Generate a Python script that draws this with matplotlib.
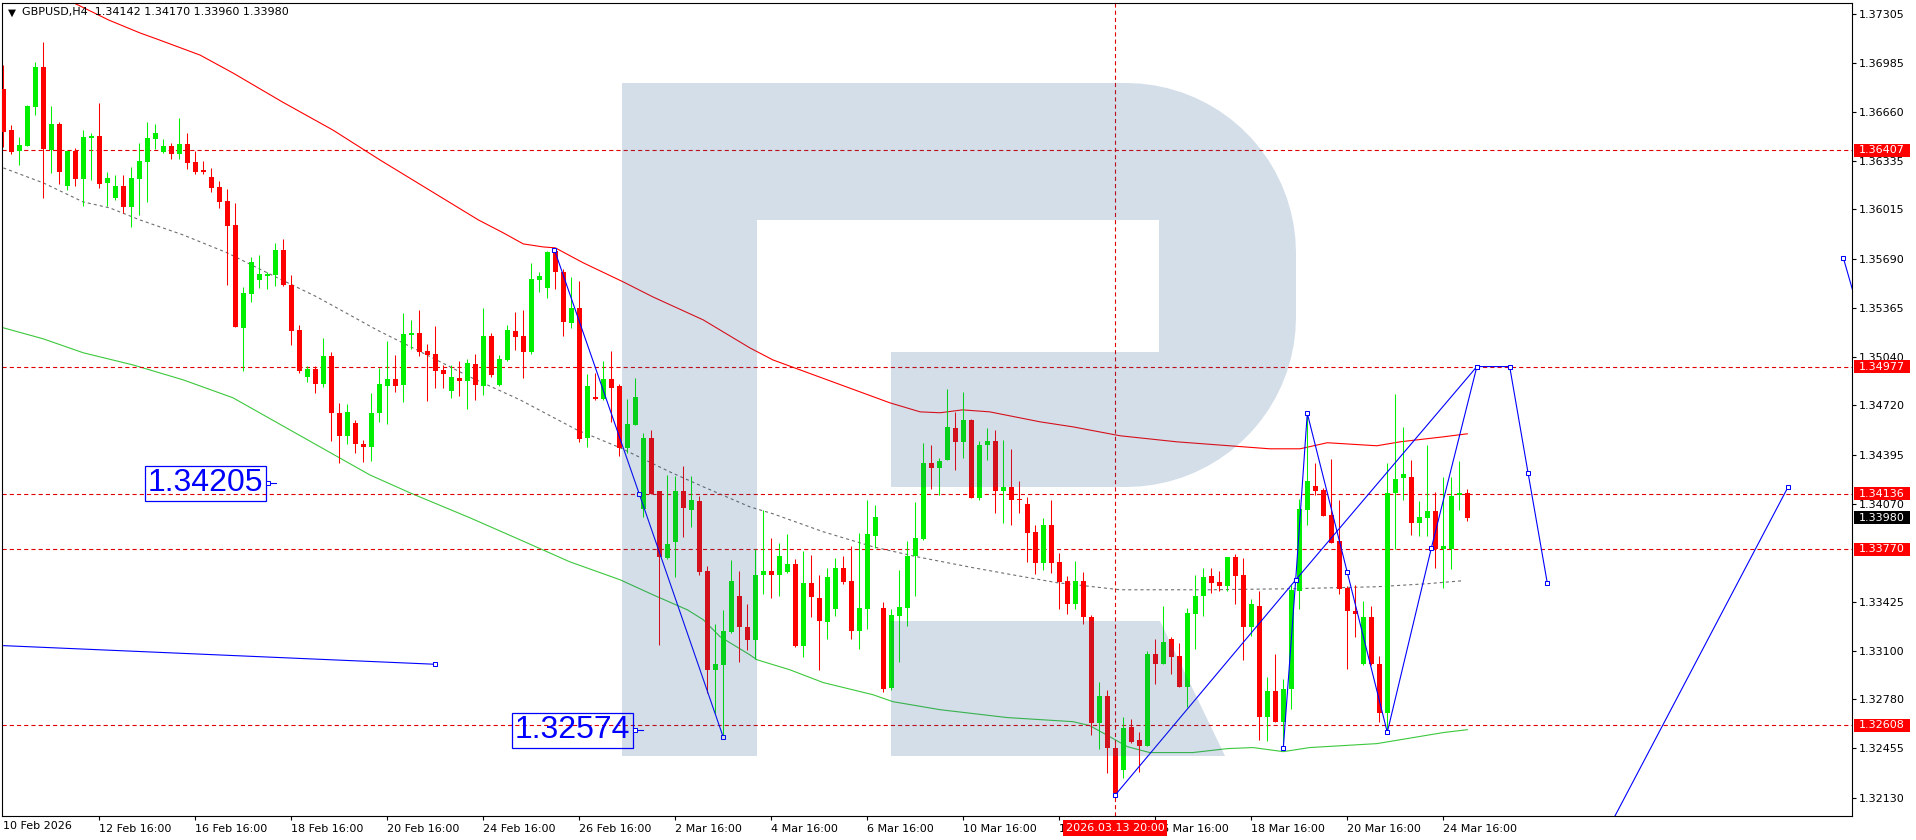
import numpy as np
import matplotlib
matplotlib.use("Agg")
import matplotlib.pyplot as plt
import matplotlib.transforms as mtransforms
from matplotlib.patches import Polygon, Rectangle

plt.rcParams['font.family'] = ['DejaVu Sans']
plt.rcParams['lines.scale_dashes'] = False

# GBPUSD H4 candles, bar 0 = 10 Feb 16:00
opens = [1.36810, 1.36539, 1.36403, 1.36436, 1.36693, 1.36955, 1.36409, 1.36579, 1.36172, 1.36400,
         1.36216, 1.36488, 1.36499, 1.36189, 1.36092, 1.36169, 1.36033, 1.36216, 1.36330, 1.36480,
         1.36396, 1.36434, 1.36383, 1.36447, 1.36328, 1.36275, 1.36229, 1.36162, 1.36070, 1.35912,
         1.35234, 1.35459, 1.35551, 1.35577, 1.35581, 1.35747, 1.35516, 1.35218, 1.34910, 1.34961,
         1.34864, 1.35047, 1.34673, 1.34521, 1.34606, 1.34468, 1.34448, 1.34669, 1.34851, 1.34896,
         1.34858, 1.35188, 1.35199, 1.35080, 1.35061, 1.34955, 1.34818, 1.34902, 1.34882, 1.34995,
         1.34851, 1.35180, 1.34856, 1.35021, 1.35213, 1.35180, 1.35076, 1.35549, 1.35496, 1.35741,
         1.35602, 1.35268, 1.35364, 1.34502, 1.34774, 1.34764, 1.34896, 1.34849, 1.34442, 1.34594,
         1.34039, 1.34506, 1.34152, 1.33716, 1.33821, 1.34156, 1.34033, 1.34090, 1.33628, 1.32970,
         1.33009, 1.33225, 1.33463, 1.33254, 1.33173, 1.33602, 1.33628, 1.33602, 1.33622, 1.33674,
         1.33133, 1.33549, 1.33450, 1.33287, 1.33379, 1.33648, 1.33562, 1.33234, 1.33379, 1.33861,
         1.33384, 1.32853, 1.33331, 1.33384, 1.33723, 1.33839, 1.34341, 1.34304, 1.34357, 1.34572,
         1.34476, 1.34625, 1.34112, 1.34456, 1.34486, 1.34152, 1.34183, 1.34097, 1.34071, 1.33886,
         1.33677, 1.33932, 1.33688, 1.33562, 1.33412, 1.33562, 1.33324, 1.32620, 1.32803, 1.32459,
         1.32316, 1.32598, 1.32508, 1.32468, 1.33080, 1.33014, 1.33179, 1.33067, 1.32864, 1.33346,
         1.33459, 1.33595, 1.33556, 1.33531, 1.33721, 1.33602, 1.33254, 1.33397, 1.32666, 1.32836,
         1.32633, 1.32845, 1.33492, 1.34033, 1.34190, 1.34163, 1.33998, 1.33826, 1.33512, 1.33364,
         1.33010, 1.33324, 1.33014, 1.32686, 1.34139, 1.34238, 1.34249, 1.33941, 1.33980, 1.34024,
         1.33769, 1.33771, 1.34130, 1.34142]
highs = [1.36968, 1.36570, 1.36493, 1.36704, 1.36988, 1.37120, 1.36698, 1.36592, 1.36400, 1.36422,
         1.36539, 1.36517, 1.36717, 1.36262, 1.36242, 1.36242, 1.36295, 1.36453, 1.36592, 1.36579,
         1.36480, 1.36453, 1.36618, 1.36519, 1.36400, 1.36337, 1.36288, 1.36202, 1.36149, 1.36057,
         1.35502, 1.35700, 1.35714, 1.35601, 1.35793, 1.35819, 1.35581, 1.35254, 1.34983, 1.34983,
         1.35168, 1.35071, 1.34734, 1.34730, 1.34624, 1.34492, 1.34801, 1.34970, 1.35146, 1.35056,
         1.35331, 1.35285, 1.35351, 1.35127, 1.35245, 1.34988, 1.34988, 1.35014, 1.35028, 1.35061,
         1.35364, 1.35199, 1.35054, 1.35252, 1.35338, 1.35351, 1.35662, 1.35602, 1.35741, 1.35754,
         1.35622, 1.35569, 1.35543, 1.34929, 1.34935, 1.35014, 1.35080, 1.34862, 1.34763, 1.34902,
         1.34539, 1.34559, 1.34158, 1.34262, 1.34257, 1.34321, 1.34255, 1.34123, 1.33659, 1.33280,
         1.33370, 1.33700, 1.33628, 1.33412, 1.33773, 1.34031, 1.33846, 1.33809, 1.33872, 1.33707,
         1.33760, 1.33734, 1.33602, 1.33648, 1.33714, 1.33727, 1.33793, 1.33875, 1.34097, 1.34064,
         1.33423, 1.33377, 1.33635, 1.33826, 1.34084, 1.34473, 1.34460, 1.34374, 1.34830, 1.34678,
         1.34810, 1.34632, 1.34486, 1.34572, 1.34559, 1.34493, 1.34434, 1.34222, 1.34117, 1.33932,
         1.33978, 1.34097, 1.33747, 1.33595, 1.33694, 1.33622, 1.33338, 1.32897, 1.32838, 1.32500,
         1.32664, 1.32651, 1.32565, 1.33100, 1.33179, 1.33397, 1.33192, 1.33153, 1.33384, 1.33602,
         1.33648, 1.33648, 1.33628, 1.33721, 1.33740, 1.33714, 1.33443, 1.33496, 1.32928, 1.33081,
         1.32915, 1.33536, 1.34104, 1.34667, 1.34337, 1.34176, 1.34368, 1.34097, 1.33531, 1.33536,
         1.33430, 1.33397, 1.33067, 1.34341, 1.34793, 1.34579, 1.34357, 1.34090, 1.34456, 1.34150,
         1.34249, 1.34249, 1.34354, 1.34170]
lows = [1.36429, 1.36381, 1.36310, 1.36434, 1.36640, 1.36092, 1.36257, 1.36183, 1.36143, 1.36172,
        1.36039, 1.36209, 1.36158, 1.36039, 1.36077, 1.35989, 1.35901, 1.35980, 1.36064, 1.36411,
        1.36389, 1.36350, 1.36350, 1.36284, 1.36251, 1.36251, 1.36132, 1.36026, 1.35518, 1.35240,
        1.34950, 1.35405, 1.35498, 1.35491, 1.35511, 1.35511, 1.35122, 1.34937, 1.34877, 1.34805,
        1.34844, 1.34488, 1.34338, 1.34463, 1.34404, 1.34345, 1.34356, 1.34614, 1.34601, 1.34812,
        1.34746, 1.35094, 1.35050, 1.34752, 1.34838, 1.34838, 1.34772, 1.34785, 1.34700, 1.34759,
        1.34792, 1.34911, 1.34851, 1.35017, 1.35087, 1.34904, 1.35063, 1.35472, 1.35433, 1.35490,
        1.35182, 1.35234, 1.34482, 1.34449, 1.34759, 1.34757, 1.34614, 1.34389, 1.34405, 1.34590,
        1.33986, 1.34134, 1.33135, 1.33709, 1.33590, 1.33854, 1.33920, 1.33603, 1.32820, 1.32686,
        1.32523, 1.33220, 1.33029, 1.33106, 1.33045, 1.33476, 1.33450, 1.33463, 1.33615, 1.33126,
        1.33056, 1.33320, 1.32970, 1.33175, 1.33327, 1.33542, 1.33175, 1.33109, 1.33247, 1.33776,
        1.32825, 1.32844, 1.33023, 1.33261, 1.33459, 1.33833, 1.34170, 1.34132, 1.34357, 1.34297,
        1.34370, 1.34106, 1.34093, 1.34357, 1.34013, 1.33941, 1.33928, 1.34007, 1.33688, 1.33604,
        1.33635, 1.33617, 1.33373, 1.33346, 1.33379, 1.33274, 1.32547, 1.32453, 1.32296, 1.32149,
        1.32257, 1.32488, 1.32297, 1.32468, 1.32882, 1.33014, 1.32948, 1.32858, 1.32726, 1.33115,
        1.33327, 1.33481, 1.33498, 1.33498, 1.33406, 1.33036, 1.33195, 1.32514, 1.32501, 1.32627,
        1.32459, 1.32713, 1.33373, 1.33934, 1.34126, 1.33987, 1.33809, 1.33472, 1.32983, 1.33188,
        1.33008, 1.33003, 1.32633, 1.32580, 1.33771, 1.34097, 1.33862, 1.33855, 1.33855, 1.33644,
        1.33512, 1.33637, 1.34033, 1.33960]
closes = [1.36528, 1.36396, 1.36440, 1.36698, 1.36955, 1.36414, 1.36579, 1.36264, 1.36400, 1.36216,
          1.36493, 1.36499, 1.36183, 1.36222, 1.36169, 1.36033, 1.36222, 1.36334, 1.36486, 1.36519,
          1.36434, 1.36383, 1.36447, 1.36323, 1.36264, 1.36264, 1.36158, 1.36066, 1.35907, 1.35240,
          1.35463, 1.35667, 1.35588, 1.35588, 1.35747, 1.35516, 1.35214, 1.34950, 1.34959, 1.34864,
          1.35047, 1.34668, 1.34521, 1.34679, 1.34463, 1.34448, 1.34673, 1.34862, 1.34896, 1.34851,
          1.35193, 1.35197, 1.35076, 1.35056, 1.34951, 1.34931, 1.34909, 1.34884, 1.35001, 1.34858,
          1.35180, 1.34922, 1.35028, 1.35219, 1.35173, 1.35076, 1.35556, 1.35576, 1.35734, 1.35602,
          1.35274, 1.35364, 1.34499, 1.34849, 1.34766, 1.34896, 1.34838, 1.34442, 1.34598, 1.34777,
          1.34506, 1.34138, 1.33722, 1.33808, 1.34156, 1.34046, 1.34097, 1.33623, 1.32976, 1.33016,
          1.33229, 1.33564, 1.33254, 1.33173, 1.33602, 1.33628, 1.33602, 1.33727, 1.33674, 1.33133,
          1.33549, 1.33452, 1.33294, 1.33589, 1.33648, 1.33556, 1.33234, 1.33384, 1.33872, 1.33985,
          1.32851, 1.33338, 1.33390, 1.33727, 1.33846, 1.34341, 1.34304, 1.34355, 1.34579, 1.34476,
          1.34625, 1.34112, 1.34460, 1.34486, 1.34152, 1.34183, 1.34099, 1.34093, 1.33881, 1.33677,
          1.33932, 1.33683, 1.33556, 1.33412, 1.33562, 1.33320, 1.32620, 1.32803, 1.32455, 1.32160,
          1.32591, 1.32495, 1.32468, 1.33080, 1.33014, 1.33159, 1.33060, 1.32864, 1.33351, 1.33463,
          1.33589, 1.33551, 1.33531, 1.33721, 1.33597, 1.33254, 1.33410, 1.32660, 1.32836, 1.32633,
          1.32849, 1.33503, 1.34038, 1.34223, 1.34152, 1.33989, 1.33815, 1.33505, 1.33360, 1.33340,
          1.33324, 1.33010, 1.32686, 1.34143, 1.34236, 1.34269, 1.33941, 1.33985, 1.34024, 1.33769,
          1.33793, 1.34123, 1.34139, 1.33980]

# time axis
tick_idx = [12, 24, 36, 48, 60, 72, 84, 96, 108, 120, 132, 144, 156, 168, 180]
tick_names = ['12 Feb 16:00', '16 Feb 16:00', '18 Feb 16:00', '20 Feb 16:00', '24 Feb 16:00',
              '26 Feb 16:00', '2 Mar 16:00', '4 Mar 16:00', '6 Mar 16:00', '10 Mar 16:00',
              '12 Mar 16:00', '16 Mar 16:00', '18 Mar 16:00', '20 Mar 16:00', '24 Mar 16:00']
first_date = '10 Feb 2026'
cross_idx = 139
cross_name = '2026.03.13 20:00'

price_ticks = [1.37305, 1.36985, 1.36660, 1.36335, 1.36015, 1.35690, 1.35365, 1.35040,
               1.34720, 1.34395, 1.34070, 1.33425, 1.33100, 1.32780, 1.32455, 1.32130]
levels = [1.36407, 1.34977, 1.34136, 1.33770, 1.32608]
last_price = 1.33980
header = 'GBPUSD,H4  1.34142 1.34170 1.33960 1.33980'

# moving averages, read at selected bars
ma_red_x = [8.6, 13.2, 17.1, 19.2, 24.6, 28.7, 34.9, 41.2, 47.1, 59.4, 62.5, 65.0, 67.5, 69.0, 72.5,
            77.5, 81.2, 87.5, 93.3, 96.2, 110.8, 114.6, 117.1, 119.9, 123.3, 129.6, 133.7, 139.6,
            146.7, 158.3, 162.1, 165.5, 171.7, 174.6, 180.0, 183.0]
ma_red_y = [1.37384, 1.37265, 1.37180, 1.37140, 1.37034, 1.36916, 1.36724, 1.36539, 1.36341, 1.35945,
            1.35860, 1.35787, 1.35767, 1.35761, 1.35662, 1.35536, 1.35437, 1.35285, 1.35101, 1.35021,
            1.34738, 1.34678, 1.34672, 1.34691, 1.34678, 1.34612, 1.34579, 1.34520, 1.34480, 1.34434,
            1.34434, 1.34474, 1.34454, 1.34480, 1.34513, 1.34533]
ma_gray_x = [0, 5, 10, 13.3, 17.1, 22.5, 28.0, 33.0, 39.2, 46.7, 51.7, 58.3, 64.6, 71.7, 77.1, 83.3,
             87.5, 93.3, 96.2, 102.5, 108.7, 114.2, 121.2, 127.5, 131.7, 139.6, 150.8, 161.2, 171.7,
             178.0, 182.5]
ma_gray_y = [1.36289, 1.36190, 1.36064, 1.36025, 1.35945, 1.35846, 1.35728, 1.35596, 1.35437, 1.35219,
             1.35087, 1.34909, 1.34757, 1.34559, 1.34441, 1.34282, 1.34183, 1.34051, 1.34005, 1.33886,
             1.33787, 1.33721, 1.33649, 1.33589, 1.33550, 1.33503, 1.33503, 1.33510, 1.33523, 1.33543,
             1.33563]
ma_green_x = [0, 5, 10, 16.2, 22.5, 28.7, 45.8, 50.8, 58.3, 64.6, 70.8, 77.1, 81.2, 85.5, 87.5, 89.6,
              93.3, 94.2, 98.3, 102.5, 108.7, 111.2, 117.1, 125.5, 133.7, 135.8, 138.3, 140.5, 143.3,
              148.7, 153.0, 156.2, 160.0, 163.3, 171.7, 180.0, 183.0]
ma_green_y = [1.35233, 1.35160, 1.35068, 1.34988, 1.34889, 1.34771, 1.34262, 1.34144, 1.33979, 1.33833,
              1.33688, 1.33569, 1.33470, 1.33371, 1.33305, 1.33193, 1.33074, 1.33041, 1.32975, 1.32890,
              1.32810, 1.32764, 1.32711, 1.32659, 1.32632, 1.32606, 1.32533, 1.32467, 1.32428, 1.32428,
              1.32454, 1.32461, 1.32434, 1.32461, 1.32487, 1.32560, 1.32579]

# analyst drawings
wave_a_x = [68.9, 79.5, 90.0]
wave_a_y = [1.35747, 1.34135, 1.32529]
trend_x = [139.0, 161.55, 184.2]
trend_y = [1.32148, 1.33568, 1.34977]
zig_x = [160.0, 161.55, 163.0, 168.0, 173.0, 178.5, 184.2, 188.3, 190.6, 193.0]
zig_y = [1.32456, 1.33568, 1.34668, 1.33618, 1.32562, 1.33777, 1.34977, 1.34977, 1.34274, 1.33548]
up_x = [201.4, 223.1]
up_y = [1.32003, 1.34182]
edge_x = [230.0, 233.0]
edge_y = [1.35696, 1.35144]
flat_x = [0.05, 54.0]
flat_y = [1.33134, 1.33011]
tag_values = [1.34205, 1.32574]
tag_x = [32.5, 78.35]

W, H = 1916, 840
fig = plt.figure(figsize=(W / 100, H / 100), dpi=100)
ax = fig.add_axes([2 / W, (H - 816) / H, 1850 / W, 813 / H])
ax.set_xlim(-0.1625, 231.09)
ax.set_ylim(1.32009, 1.37378)

o = np.array(opens); h = np.array(highs); l = np.array(lows); c = np.array(closes)
idx = np.arange(len(o))
col = np.where(c >= o, '#00ee00', '#ff0000')
ax.vlines(idx, l, h, colors=col, lw=0.75, zorder=3)
ax.bar(idx, np.maximum(np.abs(c - o), 0.00007), bottom=np.minimum(o, c), width=0.62,
       color=col, linewidth=0, zorder=3)

ax.plot(ma_red_x, ma_red_y, color='#ff0000', lw=0.8, zorder=2)
ax.plot(ma_gray_x, ma_gray_y, color='#6e6e6e', lw=0.8, dashes=(2.2, 2.2), zorder=2)
ax.plot(ma_green_x, ma_green_y, color='#3cc83c', lw=0.8, zorder=2)

for lv in levels:
    ax.axhline(lv, color='#e00000', lw=0.8, dashes=(3, 2.2), zorder=2)
ax.axvline(cross_idx, color='#e00000', lw=0.8, dashes=(3, 2.2), zorder=2)

blue = '#0000ff'
mk = dict(marker='s', ms=3.2, mfc='white', mec=blue, mew=0.75)
ax.plot(wave_a_x, wave_a_y, color=blue, lw=0.8, zorder=3, **mk)
ax.plot(trend_x, trend_y, color=blue, lw=0.8, zorder=3, **mk)
ax.plot(zig_x, zig_y, color=blue, lw=0.8, zorder=3, **mk)
ax.plot(up_x, up_y, color=blue, lw=0.8, zorder=3)
ax.plot(up_x[1:], up_y[1:], lw=0, zorder=3, **mk)
ax.plot(edge_x, edge_y, color=blue, lw=0.8, zorder=3)
ax.plot(edge_x[:1], edge_y[:1], lw=0, zorder=3, **mk)
ax.plot(flat_x, flat_y, color=blue, lw=0.8, zorder=3)
ax.plot(flat_x[1:], flat_y[1:], lw=0, zorder=3, **mk)

for tx, tv in zip(tag_x, tag_values):
    ax.text(tx, tv, f'{tv:.5f}', ha='right', va='center', color=blue, fontsize=23,
            family='Liberation Sans', zorder=6,
            bbox=dict(boxstyle='square,pad=0.08', fc='none', ec=blue, lw=0.9))
    ax.plot([tx + 0.85, tx + 1.65], [tv, tv], color=blue, lw=0.8, zorder=6)
    ax.plot([tx + 0.62], [tv], lw=0, zorder=6, marker='s', ms=2.4, mfc='white', mec=blue, mew=0.7)

# watermark logo, pixel coordinates of the figure
def fx(pts):
    return [(x / W, 1 - y / H) for x, y in pts]

t = np.linspace(0, np.pi / 2, 20)
bowl = [(757, 83), (1126, 83)]
bowl += list(zip(1126 + 170 * np.sin(t), 253 - 170 * np.cos(t)))
bowl += list(zip(1126 + 170 * np.cos(t), 317 + 170 * np.sin(t)))
bowl += [(891, 487), (891, 352), (1159, 352), (1159, 220), (757, 220)]
stem = [(622, 83), (757, 83), (757, 756), (622, 756)]
leg = [(891, 621), (1160, 621), (1225, 756), (891, 756)]
for shape in (stem, bowl, leg):
    ax.add_patch(Polygon(fx(shape), closed=True, transform=fig.transFigure,
                         fc=(35 / 255, 90 / 255, 145 / 255), alpha=0.2, ec='none', zorder=4))

for s in ax.spines.values():
    s.set_linewidth(0.8)
    s.set_color('black')

ax.set_xticks(tick_idx)
ax.set_xticklabels(tick_names, ha='left')
ax.yaxis.tick_right()
ax.set_yticks(price_ticks)
ax.set_yticklabels([f'{v:.5f}' for v in price_ticks])
ax.tick_params(axis='x', length=3, width=0.8, pad=2.5, labelsize=8)
ax.tick_params(axis='y', length=3, width=0.8, pad=2.2, labelsize=8)

ytr = mtransforms.blended_transform_factory(ax.transAxes, ax.transData)
half = 6.5 * (1.37378 - 1.32009) / 813
for lv, fc in [(v, '#ff0000') for v in levels] + [(last_price, 'black')]:
    ax.add_patch(Rectangle(((1854 - 2) / 1850, lv - half), 56 / 1850, 2 * half, transform=ytr,
                           fc=fc, ec='none', clip_on=False, zorder=7))
    ax.text((1858.5 - 2) / 1850, lv, f'{lv:.5f}', transform=ytr, ha='left', va='center',
            color='white', fontsize=8, clip_on=False, zorder=8)

xtr = mtransforms.blended_transform_factory(ax.transData, ax.transAxes)
ax.text(cross_idx, -12 / 813, cross_name, transform=xtr, ha='center', va='center', color='white',
        fontsize=8, clip_on=False, zorder=8,
        bbox=dict(boxstyle='square,pad=0.25', fc='#ff0000', ec='none'))
fig.text(3 / W, 1 - 826 / H, first_date, ha='left', va='center', fontsize=8)

fig.text(11.5 / W, 1 - 12.5 / H, '\u25bc', ha='center', va='center', fontsize=7.5)
fig.text(21.5 / W, 1 - 12.5 / H, header, ha='left', va='center', fontsize=8)

fig.savefig('out.png', dpi=100, facecolor='white')
